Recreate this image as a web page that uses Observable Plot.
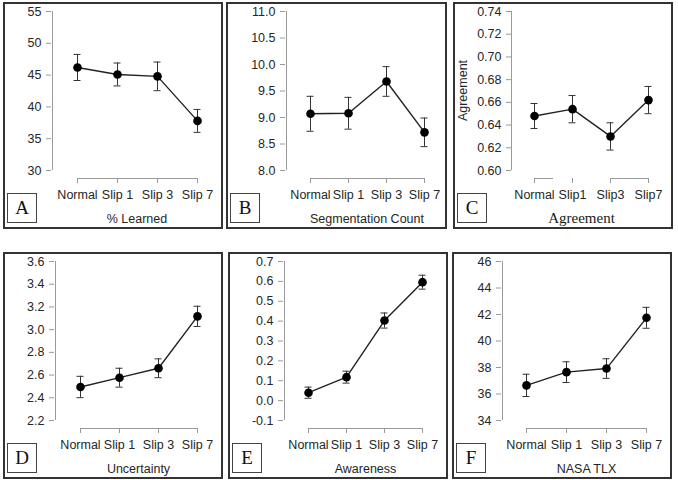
<!DOCTYPE html>
<html>
<head>
<meta charset="utf-8">
<script src="https://cdn.jsdelivr.net/npm/d3@7"></script>
<script src="https://cdn.jsdelivr.net/npm/@observablehq/plot@0.6"></script>
<style>
  body { margin: 0; background: #fff; }
  #chart { position: relative; width: 678px; height: 480px; background: #fff; overflow: hidden;
           font-family: "Liberation Sans", Arial, sans-serif; }
  .panel { position: absolute; }
  .panel svg { position: absolute; left: 0; top: 0; overflow: visible; }
  .border { position: absolute; left: 0; top: 0; right: 0; bottom: 0; border: 2px solid #333;
            box-sizing: border-box; pointer-events: none; }
  .tag { position: absolute; left: 4px; top: 191px; width: 30px; height: 30px; box-sizing: border-box;
         border: 1px solid #444; background: #fff; color: #111;
         font-family: "Liberation Serif", "Times New Roman", serif; font-size: 19px;
         display: flex; align-items: center; justify-content: center; }
</style>
</head>
<body>
<div id="chart"></div>
<script>
// Conditions on the x axis
const conditions = ["Normal", "Slip 1", "Slip 3", "Slip 7"];
const conditionLabels = ["Normal", "Slip 1", "Slip 3", "Slip 7"];
const agreementLabels = ["Normal", "Slip1", "Slip3", "Slip7"];

// A: % Learned
const learnedMean = [46.2, 45.1, 44.8, 37.8];
const learnedErr = [2.05, 1.8, 2.25, 1.8];
const learnedTicks = [30, 35, 40, 45, 50, 55];

// B: Segmentation Count
const segmentMean = [9.07, 9.08, 9.68, 8.72];
const segmentErr = [0.33, 0.30, 0.28, 0.27];
const segmentTicks = [8.0, 8.5, 9.0, 9.5, 10.0, 10.5, 11.0];

// C: Agreement
const agreementMean = [0.648, 0.654, 0.630, 0.662];
const agreementErr = [0.011, 0.012, 0.012, 0.012];
const agreementTicks = [0.60, 0.62, 0.64, 0.66, 0.68, 0.70, 0.72, 0.74];

// D: Uncertainty
const uncertaintyMean = [2.495, 2.577, 2.660, 3.117];
const uncertaintyErr = [0.094, 0.083, 0.083, 0.089];
const uncertaintyTicks = [2.2, 2.4, 2.6, 2.8, 3.0, 3.2, 3.4, 3.6];

// E: Awareness
const awarenessMean = [0.040, 0.118, 0.403, 0.596];
const awarenessErr = [0.028, 0.030, 0.038, 0.035];
const awarenessTicks = [-0.1, 0.0, 0.1, 0.2, 0.3, 0.4, 0.5, 0.6, 0.7];

// F: NASA TLX
const tlxMean = [36.65, 37.65, 37.92, 41.75];
const tlxErr = [0.84, 0.78, 0.74, 0.79];
const tlxTicks = [34, 36, 38, 40, 42, 44, 46];

const axisGrey = "#9a9a9a";
const ink = "#262626";

// Panel frame geometry shared by all six panels (pixels inside a panel)
const plotTop = 9, plotBottom = 168, axisLineY = 176, titleY = 216;

const panels = [
  {tag: "A", left: 3, top: 2, width: 220, axis: 48, xr: [73, 194], titleX: 133.5,
   title: "% Learned", mean: learnedMean, err: learnedErr, ticks: learnedTicks, digits: 0, labels: conditionLabels},
  {tag: "B", left: 226, top: 2, width: 221, axis: 59, xr: [83, 198], titleX: 140.5,
   title: "Segmentation Count", mean: segmentMean, err: segmentErr, ticks: segmentTicks, digits: 1, labels: conditionLabels},
  {tag: "C", left: 453, top: 2, width: 220, axis: 58, xr: [81, 195], titleX: 128,
   title: "Agreement", serifTitle: true, yLabel: "Agreement", brokenAxis: true,
   mean: agreementMean, err: agreementErr, ticks: agreementTicks, digits: 2, labels: agreementLabels},
  {tag: "D", left: 3, top: 252, width: 220, axis: 51, xr: [76, 194], titleX: 135,
   title: "Uncertainty", mean: uncertaintyMean, err: uncertaintyErr, ticks: uncertaintyTicks, digits: 1, labels: conditionLabels},
  {tag: "E", left: 228, top: 252, width: 220, axis: 55, xr: [79, 195], titleX: 137,
   title: "Awareness", mean: awarenessMean, err: awarenessErr, ticks: awarenessTicks, digits: 1, labels: conditionLabels},
  {tag: "F", left: 452, top: 252, width: 220, axis: 49, xr: [73, 195], titleX: 134,
   title: "NASA TLX", mean: tlxMean, err: tlxErr, ticks: tlxTicks, digits: 0, labels: conditionLabels}
];
const panelHeight = 227;

function drawPanel(cfg) {
  const data = conditions.map((c, i) => ({
    c, m: cfg.mean[i], lo: cfg.mean[i] - cfg.err[i], hi: cfg.mean[i] + cfg.err[i]
  }));
  const t0 = cfg.ticks[0], t1 = cfg.ticks[cfg.ticks.length - 1];
  const first = conditions[0], last = conditions[conditions.length - 1];

  // x axis baseline (panel C has a broken baseline)
  const baseline = cfg.brokenAxis
    ? [
        Plot.ruleY([{y: t0, a: conditions[0], b: conditions[1]}],
          {y: "y", x1: "a", x2: "b", dy: axisLineY - plotBottom, insetRight: 19, stroke: axisGrey}),
        Plot.ruleY([{y: t0, a: conditions[2], b: conditions[3]}],
          {y: "y", x1: "a", x2: "b", dy: axisLineY - plotBottom, stroke: axisGrey})
      ]
    : [
        Plot.ruleY([{y: t0, a: first, b: last}],
          {y: "y", x1: "a", x2: "b", dy: axisLineY - plotBottom, stroke: axisGrey})
      ];

  const extra = [];
  if (cfg.yLabel) {
    extra.push(Plot.text([cfg.yLabel], {
      text: d => d, frameAnchor: "left", rotate: -90,
      dx: 9 - cfg.axis, dy: 88 - (plotTop + axisLineY) / 2,
      textAnchor: "middle", lineAnchor: "middle", fill: ink, fontSize: 12.5
    }));
  }

  const svg = Plot.plot({
    width: cfg.width,
    height: panelHeight,
    marginLeft: cfg.axis,
    marginRight: 0,
    marginTop: plotTop,
    marginBottom: panelHeight - axisLineY,
    style: {fontFamily: '"Liberation Sans", Arial, sans-serif', fontSize: "12.5px", background: "transparent", color: ink, overflow: "visible"},
    x: {type: "point", domain: conditions, range: cfg.xr, padding: 0, label: null},
    y: {domain: [t0, t1], range: [plotBottom, plotTop], label: null},
    marks: [
      // y axis line spanning the first to last tick
      Plot.ruleX([{x: first, a: t0, b: t1}], {x: "x", y1: "a", y2: "b", dx: cfg.axis - cfg.xr[0], stroke: axisGrey}),
      Plot.axisY({ticks: cfg.ticks, tickSize: 5, tickPadding: 5, tickFormat: d => d.toFixed(cfg.digits),
                  stroke: axisGrey, fill: ink, label: null}),
      ...baseline,
      Plot.axisX({tickSize: 5, tickPadding: 7, tickFormat: d => cfg.labels[conditions.indexOf(d)],
                  stroke: axisGrey, fill: ink, label: null}),
      // error bars
      Plot.ruleX(data, {x: "c", y1: "lo", y2: "hi", stroke: "#333", strokeWidth: 1}),
      Plot.ruleY(data, {y: "lo", x1: "c", x2: "c", insetLeft: -3.5, insetRight: -3.5, stroke: "#333"}),
      Plot.ruleY(data, {y: "hi", x1: "c", x2: "c", insetLeft: -3.5, insetRight: -3.5, stroke: "#333"}),
      // means
      Plot.line(data, {x: "c", y: "m", stroke: "#222", strokeWidth: 1.4}),
      Plot.dot(data, {x: "c", y: "m", r: 4.3, fill: "#000", stroke: null}),
      // panel title
      Plot.text([cfg.title], {
        text: d => d, frameAnchor: "bottom-left", dx: cfg.titleX - cfg.axis, dy: titleY - axisLineY,
        textAnchor: "middle", lineAnchor: "middle", fill: cfg.serifTitle ? "#1a1a1a" : ink,
        fontFamily: cfg.serifTitle ? '"Liberation Serif", "Times New Roman", serif' : undefined,
        fontSize: cfg.serifTitle ? 15 : 12.5
      }),
      ...extra
    ]
  });

  const div = document.createElement("div");
  div.className = "panel";
  div.style.left = cfg.left + "px";
  div.style.top = cfg.top + "px";
  div.style.width = cfg.width + "px";
  div.style.height = panelHeight + "px";
  div.appendChild(svg);
  const border = document.createElement("div");
  border.className = "border";
  div.appendChild(border);
  const tag = document.createElement("div");
  tag.className = "tag";
  tag.textContent = cfg.tag;
  div.appendChild(tag);
  document.getElementById("chart").appendChild(div);
}

panels.forEach(drawPanel);
</script>
</body>
</html>
